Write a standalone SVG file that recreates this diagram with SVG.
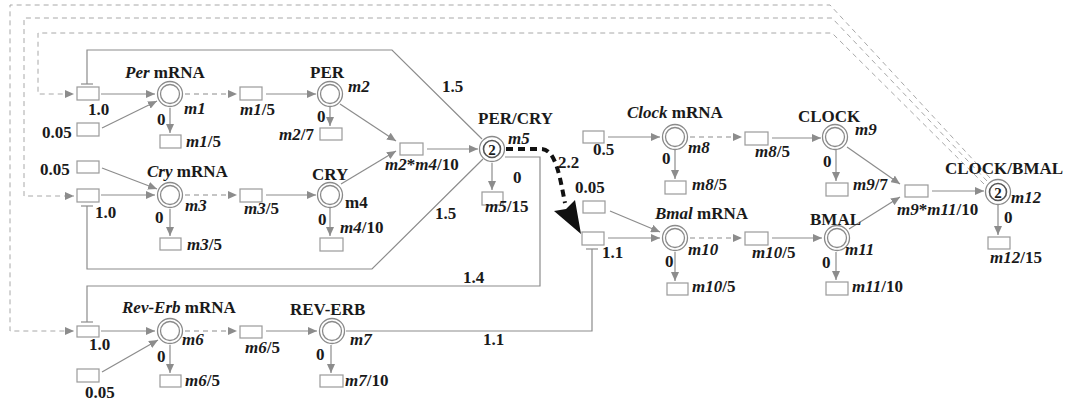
<svg xmlns="http://www.w3.org/2000/svg" width="1071" height="405" viewBox="0 0 1071 405">
<style>
text{font-family:"Liberation Serif","Times New Roman",serif;font-weight:bold;font-size:17px;fill:#1a1a1a}
.i{font-style:italic}
.bx{fill:#fff;stroke:#9a9a9a;stroke-width:1.2}
.o{fill:#fff;stroke:#8a8a8a;stroke-width:1.3}
.in{fill:none;stroke:#8a8a8a;stroke-width:1.3}
.in2{fill:none;stroke:#555;stroke-width:1.6}
.c{fill:none;stroke:#8c8c8c;stroke-width:1.2}
.a{marker-end:url(#ah)}
.d{stroke-dasharray:5,4}
.fb{fill:none;stroke:#a8a8a8;stroke-width:1;stroke-dasharray:5,4}
.big{fill:none;stroke:#111;stroke-width:4;stroke-dasharray:7,5}
.two{font-size:15px;text-anchor:middle}
</style>
<defs>
<marker id="ah" markerUnits="userSpaceOnUse" markerWidth="10" markerHeight="8" refX="9" refY="4" orient="auto">
<path d="M0,0 L9,4 L0,8 z" fill="#8c8c8c"/>
</marker>
</defs>

<g id="connectors">
<path class="fb a" d="M990,178 L830,5 H10 V331 H74"/>
<path class="fb a" d="M987,181 L832,18 H24 V196 H74"/>
<path class="fb a" d="M984,184 L832,33 H38 V94 H74"/>
<path class="c a" d="M101,94 H155"/>
<path class="c a" d="M102,128 L157,101"/>
<path class="c a" d="M170,108 V133"/>
<path class="c d a" d="M185,94 H237"/>
<path class="c a" d="M266,94 H316"/>
<path class="c a" d="M330,107 V126"/>
<path class="c a" d="M340,104 L396,141"/>
<path class="c a" d="M341,184 L396,151"/>
<path class="c a" d="M427,149 H478"/>
<path class="c" d="M87,84 V50 H392 L482,139"/>
<path class="c" d="M81,84 H93"/>
<path class="c a" d="M102,168 L157,189"/>
<path class="c a" d="M101,195 H155"/>
<path class="c a" d="M170,209 V236"/>
<path class="c d a" d="M185,195 H237"/>
<path class="c a" d="M266,195 H316"/>
<path class="c a" d="M330,208 V236"/>
<path class="c" d="M87,206 V269 H372 L483,159"/>
<path class="c" d="M81,206 H93"/>
<path class="c a" d="M492,163 V190"/>
<path class="c" d="M505,157 H540 V286 H87 V322"/>
<path class="c" d="M81,322 H93"/>
<path class="big" d="M506,149 H542 C556,150 560,178 565,203"/>
<path d="M581,234 L554,211 L566,209 L575,200 Z" fill="#111"/>
<path class="c a" d="M101,331 H155"/>
<path class="c a" d="M102,372 L158,340"/>
<path class="c a" d="M170,345 V373"/>
<path class="c d a" d="M185,331 H237"/>
<path class="c a" d="M266,331 H317"/>
<path class="c a" d="M331,345 V373"/>
<path class="c" d="M346,331 H592 V249"/>
<path class="c" d="M586,249 H598"/>
<path class="c a" d="M608,137 H660"/>
<path class="c a" d="M675,150 V179"/>
<path class="c d a" d="M690,137 H742"/>
<path class="c a" d="M772,138 H821"/>
<path class="c a" d="M836,150 V181"/>
<path class="c a" d="M847,147 L900,184"/>
<path class="c a" d="M849,229 L900,197"/>
<path class="c a" d="M932,191 H984"/>
<path class="c a" d="M998,205 V235"/>
<path class="c a" d="M610,211 L660,232"/>
<path class="c a" d="M608,238 H660"/>
<path class="c a" d="M675,252 V281"/>
<path class="c d a" d="M690,238 H742"/>
<path class="c a" d="M772,238 H822"/>
<path class="c a" d="M836,252 V280"/>
</g>

<g id="per_in"><rect class="bx" x="77" y="87" width="22" height="13"/><text x="88" y="115">1.0</text></g>
<g id="per_basal"><rect class="bx" x="77" y="123" width="22" height="13"/><text x="42" y="138">0.05</text></g>
<g id="m1"><circle class="o" cx="170" cy="94" r="12.5"/><circle class="in" cx="170" cy="94" r="9.5"/>
<text x="125" y="78"><tspan class="i">Per</tspan> mRNA</text><text class="i" x="184" y="114">m1</text></g>
<g id="m1_deg"><rect class="bx" x="160" y="135" width="21" height="13"/><text x="157" y="125">0</text><text x="186" y="147"><tspan class="i">m1</tspan>/5</text></g>
<g id="m1_tl"><rect class="bx" x="240" y="87" width="22" height="13"/><text x="240" y="115"><tspan class="i">m1</tspan>/5</text></g>
<g id="m2"><circle class="o" cx="330" cy="94" r="12.5"/><circle class="in" cx="330" cy="94" r="9.5"/>
<text x="310" y="78">PER</text><text class="i" x="348" y="92">m2</text></g>
<g id="m2_deg"><rect class="bx" x="320" y="128" width="22" height="12"/><text x="317" y="122">0</text><text x="279" y="140"><tspan class="i">m2</tspan>/7</text></g>
<g id="cplx1"><rect class="bx" x="400" y="143" width="23" height="12"/><text x="385" y="170"><tspan class="i">m2</tspan>*<tspan class="i">m4</tspan>/10</text></g>
<g id="m5"><circle class="o" cx="492" cy="149" r="12.5"/><circle class="in2" cx="492" cy="149" r="8.5"/>
<text class="two" x="492" y="154.5">2</text>
<text x="478" y="124">PER/CRY</text><text class="i" x="508" y="144">m5</text></g>
<g id="m5_deg"><rect class="bx" x="482" y="192" width="21" height="13"/><text x="513" y="183">0</text><text x="485" y="212"><tspan class="i">m5</tspan>/15</text></g>
<text x="442" y="92">1.5</text>
<text x="435" y="219">1.5</text>
<text x="463" y="283">1.4</text>
<text x="558" y="168">2.2</text>
<g id="cry_basal"><rect class="bx" x="77" y="161" width="22" height="12"/><text x="40" y="175">0.05</text></g>
<g id="cry_in"><rect class="bx" x="77" y="189" width="22" height="13"/><text x="95" y="218">1.0</text></g>
<g id="m3"><circle class="o" cx="170" cy="195" r="12.5"/><circle class="in" cx="170" cy="195" r="9.5"/>
<text x="147" y="177"><tspan class="i">Cry</tspan> mRNA</text><text class="i" x="185" y="211">m3</text></g>
<g id="m3_deg"><rect class="bx" x="160" y="238" width="21" height="12"/><text x="155" y="223">0</text><text x="187" y="250"><tspan class="i">m3</tspan>/5</text></g>
<g id="m3_tl"><rect class="bx" x="240" y="189" width="22" height="13"/><text x="244" y="214"><tspan class="i">m3</tspan>/5</text></g>
<g id="m4"><circle class="o" cx="330" cy="195" r="12.5"/><circle class="in" cx="330" cy="195" r="9.5"/>
<text x="312" y="180">CRY</text><text x="345" y="208">m4</text></g>
<g id="m4_deg"><rect class="bx" x="320" y="238" width="23" height="13"/><text x="318" y="225">0</text><text x="340" y="233"><tspan class="i">m4</tspan>/10</text></g>
<g id="rev_in"><rect class="bx" x="77" y="326" width="22" height="11"/><text x="89" y="350">1.0</text></g>
<g id="rev_basal"><rect class="bx" x="77" y="369" width="22" height="13"/><text x="85" y="398">0.05</text></g>
<g id="m6"><circle class="o" cx="170" cy="331" r="12.5"/><circle class="in" cx="170" cy="331" r="9.5"/>
<text x="122" y="313"><tspan class="i">Rev-Erb</tspan> mRNA</text><text class="i" x="182" y="345">m6</text></g>
<g id="m6_deg"><rect class="bx" x="160" y="375" width="21" height="12"/><text x="157" y="362">0</text><text x="185" y="386"><tspan class="i">m6</tspan>/5</text></g>
<g id="m6_tl"><rect class="bx" x="240" y="326" width="22" height="12"/><text x="245" y="353"><tspan class="i">m6</tspan>/5</text></g>
<g id="m7"><circle class="o" cx="332" cy="331" r="12.5"/><circle class="in" cx="332" cy="331" r="9.5"/>
<text x="290" y="315">REV-ERB</text><text class="i" x="350" y="345">m7</text></g>
<g id="m7_deg"><rect class="bx" x="320" y="375" width="23" height="12"/><text x="316" y="360">0</text><text x="345" y="386"><tspan class="i">m7</tspan>/10</text></g>
<text x="483" y="345">1.1</text>
<g id="clock_in"><rect class="bx" x="583" y="131" width="21" height="12"/><text x="593" y="155">0.5</text></g>
<g id="m8"><circle class="o" cx="675" cy="137" r="12.5"/><circle class="in" cx="675" cy="137" r="9.5"/>
<text x="627" y="118"><tspan class="i">Clock</tspan> mRNA</text><text class="i" x="688" y="153">m8</text></g>
<g id="m8_deg"><rect class="bx" x="665" y="181" width="21" height="13"/><text x="662" y="164">0</text><text x="692" y="190"><tspan class="i">m8</tspan>/5</text></g>
<g id="m8_tl"><rect class="bx" x="745" y="132" width="23" height="13"/><text x="755" y="157"><tspan class="i">m8</tspan>/5</text></g>
<g id="m9"><circle class="o" cx="835" cy="137" r="12.5"/><circle class="in" cx="835" cy="137" r="9.5"/>
<text x="798" y="122">CLOCK</text><text class="i" x="855" y="135">m9</text></g>
<g id="m9_deg"><rect class="bx" x="826" y="183" width="22" height="13"/><text x="823" y="167">0</text><text x="853" y="190"><tspan class="i">m9</tspan>/7</text></g>
<g id="cplx2"><rect class="bx" x="905" y="185" width="23" height="12"/><text x="897" y="215"><tspan class="i">m9</tspan>*<tspan class="i">m11</tspan>/10</text></g>
<g id="m12"><circle class="o" cx="998" cy="192" r="12.5"/><circle class="in2" cx="998" cy="192" r="8.5"/>
<text class="two" x="998" y="197.5">2</text>
<text x="945" y="174">CLOCK/BMAL</text><text class="i" x="1011" y="203">m12</text></g>
<g id="m12_deg"><rect class="bx" x="988" y="237" width="22" height="12"/><text x="1004" y="223">0</text><text x="990" y="263"><tspan class="i">m12</tspan>/15</text></g>
<g id="bmal_basal"><rect class="bx" x="583" y="201" width="22" height="12"/><text x="575" y="193">0.05</text></g>
<g id="bmal_in"><rect class="bx" x="582" y="232" width="22" height="13"/><text x="602" y="258">1.1</text></g>
<g id="m10"><circle class="o" cx="675" cy="238" r="12.5"/><circle class="in" cx="675" cy="238" r="9.5"/>
<text x="655" y="219"><tspan class="i">Bmal</tspan> mRNA</text><text class="i" x="688" y="255">m10</text></g>
<g id="m10_deg"><rect class="bx" x="667" y="283" width="21" height="12"/><text x="665" y="267">0</text><text x="692" y="292"><tspan class="i">m10</tspan>/5</text></g>
<g id="m10_tl"><rect class="bx" x="745" y="232" width="23" height="13"/><text x="752" y="258"><tspan class="i">m10</tspan>/5</text></g>
<g id="m11"><circle class="o" cx="837" cy="238" r="12.5"/><circle class="in" cx="837" cy="238" r="9.5"/>
<text x="810" y="225">BMAL</text><text class="i" x="845" y="255">m11</text></g>
<g id="m11_deg"><rect class="bx" x="826" y="282" width="22" height="13"/><text x="822" y="268">0</text><text x="852" y="292"><tspan class="i">m11</tspan>/10</text></g>
</svg>
